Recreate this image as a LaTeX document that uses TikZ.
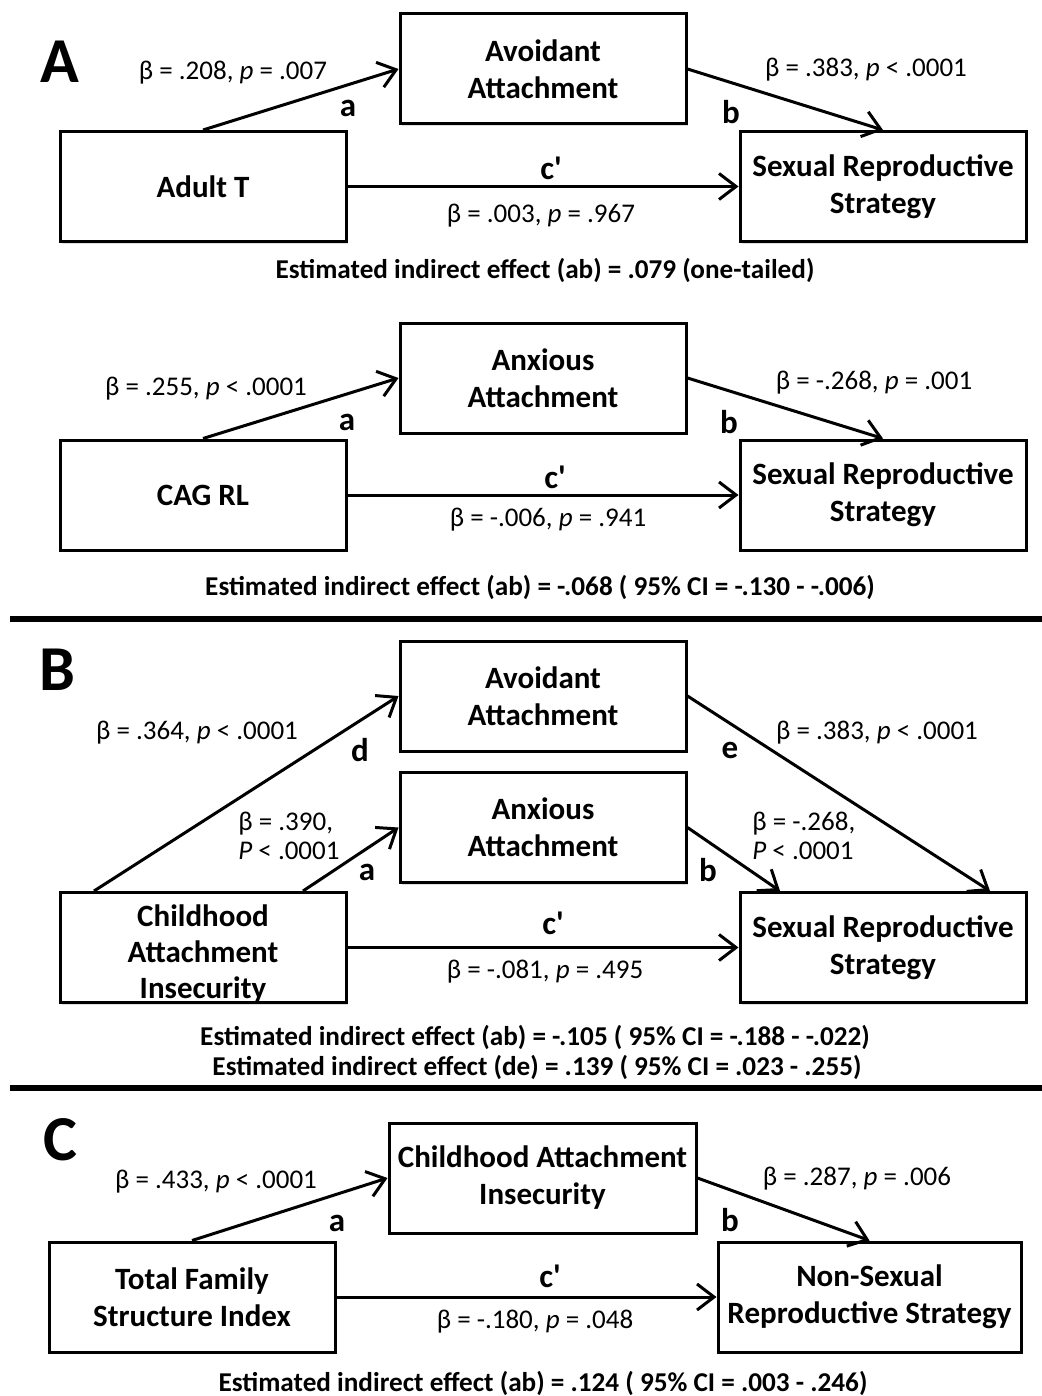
\documentclass[tikz,border=0pt]{standalone}
\usepackage{fontspec}
\setmainfont{Carlito}
\usetikzlibrary{positioning,arrows.meta,shadows}

\tikzset{
 box/.style={draw, line width=1.5pt, fill=white, minimum width=143pt, minimum height=55pt, align=center, inner sep=0pt, font=\bfseries\fontsize{15.5}{18.5}\selectfont, drop shadow={shadow xshift=1.2pt, shadow yshift=-1.2pt, opacity=0.25}},
 arr/.style={line width=1.5pt, -{Straight Barb[length=8.5pt, width=13pt, line width=1.5pt]}},
 coef/.style={font=\fontsize{13.5}{14.5}\selectfont, align=left, inner sep=0pt},
 lett/.style={font=\bfseries\fontsize{16.5}{18}\selectfont, inner sep=0pt},
 est/.style={font=\bfseries\fontsize{13.6}{15}\selectfont, inner sep=0pt},
 panel/.style={font=\bfseries\fontsize{32}{36}\selectfont, inner sep=0pt},
 sep/.style={line width=3pt}
}

\begin{document}
\begin{tikzpicture}[x=0.5pt, y=-0.5pt]
 \useasboundingbox (0,0) rectangle (1042,1396);

 %Panel A, first model
 \node (pA) [panel] at (60,62) {A};
 \node (avA) [box] at (543,69) {Avoidant\\Attachment};
 \node (adT) [box] at (203,186.5) {Adult T};
 \node (srA) [box] at (883,186.5) {Sexual Reproductive\\Strategy};

 \draw[arr] (adT.north) -- (avA.west);
 \draw[arr] (avA.east) -- (srA.north);
 \draw[arr] (adT.east) -- (srA.west);

 \node (cAa) [coef] at (233,73) {β = .208, \textit{p} = .007};
 \node (lAa) [lett] at (348,108) {a};
 \node (lAb) [lett] at (731,112) {b};
 \node (cAb) [coef] at (866,70) {β = .383, \textit{p} < .0001};
 \node (lAc) [lett] at (551,168) {c\textquotesingle};
 \node (cAc) [coef] at (541,216) {β = .003, \textit{p} = .967};
 \node (eA) [est] at (545,270) {Estimated indirect effect (ab) = .079 (one-tailed)};

 %Panel A, second model
 \node (anxA) [box] at (543,378) {Anxious\\Attachment};
 \node (cag) [box] at (203,495) {CAG RL};
 \node (srA2) [box] at (883,495) {Sexual Reproductive\\Strategy};

 \draw[arr] (cag.north) -- (anxA.west);
 \draw[arr] (anxA.east) -- (srA2.north);
 \draw[arr] (cag.east) -- (srA2.west);

 \node (cA2a) [coef] at (206,389) {β = .255, \textit{p} < .0001};
 \node (lA2a) [lett] at (347,422) {a};
 \node (lA2b) [lett] at (729,422) {b};
 \node (cA2b) [coef] at (874,383) {β = -.268, \textit{p} = .001};
 \node (lA2c) [lett] at (555,477) {c\textquotesingle};
 \node (cA2c) [coef] at (548,520) {β = -.006, \textit{p} = .941};
 \node (eA2) [est] at (540,587) {Estimated indirect effect (ab) = -.068 ( 95\% CI = -.130 - -.006)};

 \coordinate (s1l) at (10,619);
 \coordinate (s1r) at (1042,619);
 \draw[sep] (s1l) -- (s1r);

 %Panel B
 \node (pB) [panel] at (57,670) {B};
 \node (avB) [box] at (543,696) {Avoidant\\Attachment};
 \node (anxB) [box] at (543,827.5) {Anxious\\Attachment};
 \node (chiB) [box] at (203,947.5) {};
 \node (chiBtext) [font=\bfseries\fontsize{15.5}{18}\selectfont, align=center, inner sep=0pt] at (203,954) {Childhood\\Attachment\\Insecurity};
 \node (srB) [box] at (883,947.5) {Sexual Reproductive\\Strategy};

 \draw[arr] ([xshift=-54.5pt]chiB.north) -- (avB.west);
 \draw[arr] ([xshift=50pt]chiB.north) -- (anxB.west);
 \draw[arr] (avB.east) -- ([xshift=53.5pt]srB.north);
 \draw[arr] (anxB.east) -- ([xshift=-51.5pt]srB.north);
 \draw[arr] (chiB.east) -- (srB.west);

 \node (cBd) [coef] at (197,733) {β = .364, \textit{p} < .0001};
 \node (lBd) [lett] at (360,750) {d};
 \node (cBa) [coef, anchor=west] at (238,836) {β = .390,\\\textit{P} < .0001};
 \node (lBa) [lett] at (367,872) {a};
 \node (lBe) [lett] at (730,750) {e};
 \node (cBe) [coef] at (877,733) {β = .383, \textit{p} < .0001};
 \node (cBb) [coef, anchor=west] at (752,836) {β = -.268,\\\textit{P} < .0001};
 \node (lBb) [lett] at (708,870) {b};
 \node (lBc) [lett] at (553,923) {c\textquotesingle};
 \node (cBc) [coef] at (545,972) {β = -.081, \textit{p} = .495};
 \node (eB1) [est] at (535,1037) {Estimated indirect effect (ab) = -.105 ( 95\% CI = -.188 - -.022)};
 \node (eB2) [est] at (537,1067) {Estimated indirect effect (de) = .139 ( 95\% CI = .023 - .255)};

 \coordinate (s2l) at (10,1088);
 \coordinate (s2r) at (1042,1088);
 \draw[sep] (s2l) -- (s2r);

 %Panel C
 \node (pC) [panel] at (60,1140) {C};
 \node (chiC) [box, minimum width=153.5pt] at (542.5,1178) {Childhood Attachment\\Insecurity};
 \node (tfs) [box] at (192,1297) {Total Family\\Structure Index};
 \node (nsr) [box, minimum width=151.5pt] at (869.5,1297) {Non-Sexual\\Reproductive Strategy};

 \draw[arr] (tfs.north) -- (chiC.west);
 \draw[arr] (chiC.east) -- (nsr.north);
 \draw[arr] (tfs.east) -- (nsr.west);

 \node (cCa) [coef] at (216,1182) {β = .433, \textit{p} < .0001};
 \node (lCa) [lett] at (337,1223) {a};
 \node (lCb) [lett] at (730,1220) {b};
 \node (cCb) [coef] at (857,1179) {β = .287, \textit{p} = .006};
 \node (lCc) [lett] at (550,1276) {c\textquotesingle};
 \node (cCc) [coef] at (535,1322) {β = -.180, \textit{p} = .048};
 \node (eC) [est] at (543,1383) {Estimated indirect effect (ab) = .124 ( 95\% CI = .003 - .246)};
\end{tikzpicture}
\end{document}
